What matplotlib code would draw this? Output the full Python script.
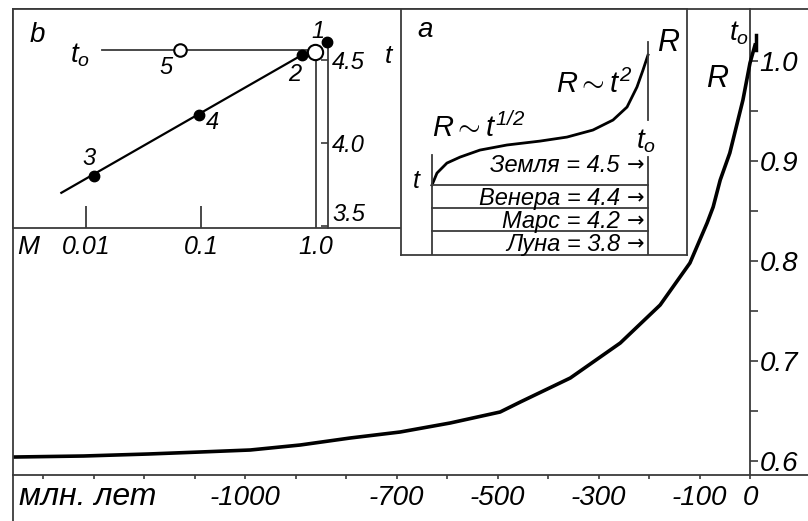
import numpy as np
import matplotlib
matplotlib.use('Agg')
import matplotlib.pyplot as plt
from matplotlib.lines import Line2D
from matplotlib.ticker import NullLocator

plt.rcParams['font.family'] = ['Liberation Sans', 'DejaVu Sans']
plt.rcParams['font.style'] = 'italic'
plt.rcParams['mathtext.fontset'] = 'custom'
plt.rcParams['mathtext.it'] = 'Liberation Sans:italic'
plt.rcParams['mathtext.rm'] = 'Liberation Sans'
plt.rcParams['mathtext.sf'] = 'Liberation Sans:italic'

W, H = 808, 521
FRAME = '#3a3a3a'

# main chart: R against time (million years)
time_myr = [-1455, -1320, -1192, -1089, -990, -891, -792, -693, -594, -495,
            -455, -356, -257, -178, -119, -85, -73, -59, -40, -14, 0, 10]
radius = [0.604, 0.605, 0.607, 0.609, 0.611, 0.616, 0.623, 0.629, 0.638, 0.649,
          0.659, 0.683, 0.718, 0.756, 0.798, 0.838, 0.854, 0.881, 0.908, 0.961,
          0.998, 1.016]
r_major = [0.6, 0.7, 0.8, 0.9, 1.0]
r_minor = [0.65, 0.75, 0.85, 0.95]
time_ticks = list(range(-1400, 1, 100))
time_shown = [-1000, -700, -500, -300, -100, 0]

# inset b: age t against mass M
mass_filled = [1.25, 0.755, 0.0117, 0.096]
age_filled = [4.61, 4.53, 3.80, 4.17]
filled_ids = ['1', '2', '3', '4']
mass_open = [0.066, 0.98]
age_open = [4.56, 4.55]
fit_mass = [0.0061, 0.755]
fit_age = [3.70, 4.53]
t0 = 4.56
t0_start = 0.0138
t_axis_mass = 1.27

# inset a: sketch R(t) and ages
sketch_t = [0, 0.023, 0.069, 0.130, 0.222, 0.347, 0.5, 0.625, 0.745, 0.838,
            0.903, 0.949, 0.977, 1.0]
sketch_r = [0, 0.092, 0.169, 0.215, 0.269, 0.308, 0.338, 0.369, 0.423, 0.5,
            0.6, 0.754, 0.885, 1.0]
bodies = ['Земля', 'Венера', 'Марс', 'Луна']
ages = [4.5, 4.4, 4.2, 3.8]


def rect(x0, y0, x1, y1):
    return [x0 / W, 1 - y1 / H, (x1 - x0) / W, (y1 - y0) / H]


def ftext(x, y, s, **kw):
    fig.text(x / W, 1 - y / H, s, **kw)


def fline(xs, ys, **kw):
    fig.add_artist(Line2D([x / W for x in xs], [1 - y / H for y in ys],
                          transform=fig.transFigure, color=FRAME, lw=1.3, **kw))


fig = plt.figure(figsize=(W / 100, H / 100), dpi=100)

# ---- main axes
ax = fig.add_axes(rect(13, 9, 750, 475))
ax.plot(time_myr, radius, color='black', lw=2.6, clip_on=False, zorder=3)
ax.set_xlim(-1460, 0)
ax.set_ylim(0.586, 1.052)
for s in ax.spines.values():
    s.set_color(FRAME)
    s.set_linewidth(1.3)
ax.yaxis.tick_right()
ax.set_yticks(r_major)
ax.set_yticks(r_minor, minor=True)
ax.set_yticklabels(['%.1f' % v for v in r_major])
ax.tick_params(axis='y', which='both', direction='out', length=6, width=1.2,
               color=FRAME, labelsize=20, pad=1)
ax.set_xticks(time_ticks)
ax.set_xticklabels([str(v) if v in time_shown else '' for v in time_ticks])
ax.tick_params(axis='x', direction='out', length=3, width=1.2, color=FRAME,
               labelsize=20, pad=4)
ax.plot([12, 12], [1.011, 1.026], color='black', lw=2.5, clip_on=False)
ax.text(-65, 0.982, 'R', fontsize=22, ha='center', va='center')
ax.text(-22, 1.028, r'$t_{\rm o}$', fontsize=20, ha='center', va='center')

fline([750, 808], [9, 9])
fline([750, 808], [475, 475])
fline([13, 13], [475, 521])
ftext(19, 497, 'млн. лет', fontsize=23, va='center', ha='left')

# ---- inset b
axb = fig.add_axes(rect(13, 9, 401, 228))
axb.set_xscale('log')
axb.set_xlim(10 ** -2.635, 10 ** 0.739)
axb.set_ylim(3.488, 4.807)
axb.plot(fit_mass, fit_age, color='black', lw=1.6)
axb.plot([t0_start, 1.0], [t0, t0], color=FRAME, lw=1.3)
axb.plot([1.0, 1.0], [3.488, t0], color=FRAME, lw=1.3)
axb.plot(mass_filled, age_filled, 'o', color='black', ms=7.5, zorder=4)
axb.plot(mass_open[0], age_open[0], 'o', mfc='white', mec='black', mew=1.5, ms=9, zorder=4)
axb.plot(mass_open[1], age_open[1], 'o', mfc='white', mec='black', mew=1.5, ms=11, zorder=4)
offsets = [(-9, 10), (-7, -20), (-5, 18), (13, -8)]
for m, a, lab, off in zip(mass_filled, age_filled, filled_ids, offsets):
    axb.annotate(lab, (m, a), xytext=off, textcoords='offset pixels',
                 fontsize=17, ha='center', va='center')
axb.annotate('5', (mass_open[0], age_open[0]), xytext=(-14, -17),
             textcoords='offset pixels', fontsize=17, ha='center', va='center')
for side in ['left', 'top', 'bottom']:
    axb.spines[side].set_color(FRAME)
    axb.spines[side].set_linewidth(1.3)
axb.spines['right'].set_position(('data', t_axis_mass))
axb.spines['right'].set_bounds(3.488, 4.59)
axb.spines['right'].set_color(FRAME)
axb.spines['right'].set_linewidth(1.3)
axb.yaxis.tick_right()
axb.set_yticks([3.5, 4.0, 4.5])
axb.set_yticklabels(['3.5', '4.0', '4.5'])
axb.get_yticklabels()[0].set_va('bottom')
axb.tick_params(axis='y', direction='in', length=5, width=1.2, color=FRAME,
                labelsize=17, pad=3)
axb.set_xticks([0.01, 0.1, 1.0])
axb.set_xticklabels(['0.01', '0.1', '1.0'])
axb.xaxis.set_minor_locator(NullLocator())
axb.tick_params(axis='x', direction='in', length=16, width=1.3, color=FRAME,
                labelsize=18, pad=5)
axb.xaxis.get_major_ticks()[2].tick1line.set_visible(False)
ftext(37, 35, 'b', fontsize=20, ha='center', va='center')
ftext(80, 55, r'$t_{\rm o}$', fontsize=20, ha='center', va='center')
ftext(388, 56, 't', fontsize=19, ha='center', va='center')
ftext(28, 247, 'M', fontsize=19, ha='center', va='center')

# ---- inset a
axa = fig.add_axes(rect(401, 9, 687, 255))
axa.set_xlim(-0.1435, 1.1806)
axa.set_ylim(-0.538, 1.354)
axa.set_xticks([])
axa.set_yticks([])
for s in axa.spines.values():
    s.set_color(FRAME)
    s.set_linewidth(1.3)
axa.plot(sketch_t, sketch_r, color='black', lw=2.0)
axa.plot([0, 0], [-0.538, 0.23], color=FRAME, lw=1.3)
axa.plot([1, 1], [0.5, 1.1], color=FRAME, lw=1.3)
axa.plot([1, 1], [-0.538, 0.215], color=FRAME, lw=1.3)
row_lines = [0, -0.177, -0.354]
for y in row_lines:
    axa.plot([0, 1], [y, y], color=FRAME, lw=1.3)
row_text_y = [0.154, -0.105, -0.282, -0.459]
for name, age, y in zip(bodies, ages, row_text_y):
    axa.text(0.87, y, '%s = %.1f' % (name, age), fontsize=17,
             ha='right', va='center')
    axa.text(0.985, y, '\u2192', fontsize=15, ha='right', va='center',
             family='DejaVu Sans', style='normal')
ftext(425, 30, 'a', fontsize=20, ha='center', va='center')
ftext(668, 43, 'R', fontsize=22, ha='center', va='center')
ftext(646, 141, r'$t_{\rm o}$', fontsize=20, ha='center', va='center')
ftext(416, 181, 't', fontsize=18, ha='center', va='center')
ftext(432, 128, r'$R \sim t^{1/2}$', fontsize=21, ha='left', va='center')
ftext(556, 84, r'$R \sim t^{2}$', fontsize=21, ha='left', va='center')

fig.savefig('out.png', dpi=100, facecolor='white')
